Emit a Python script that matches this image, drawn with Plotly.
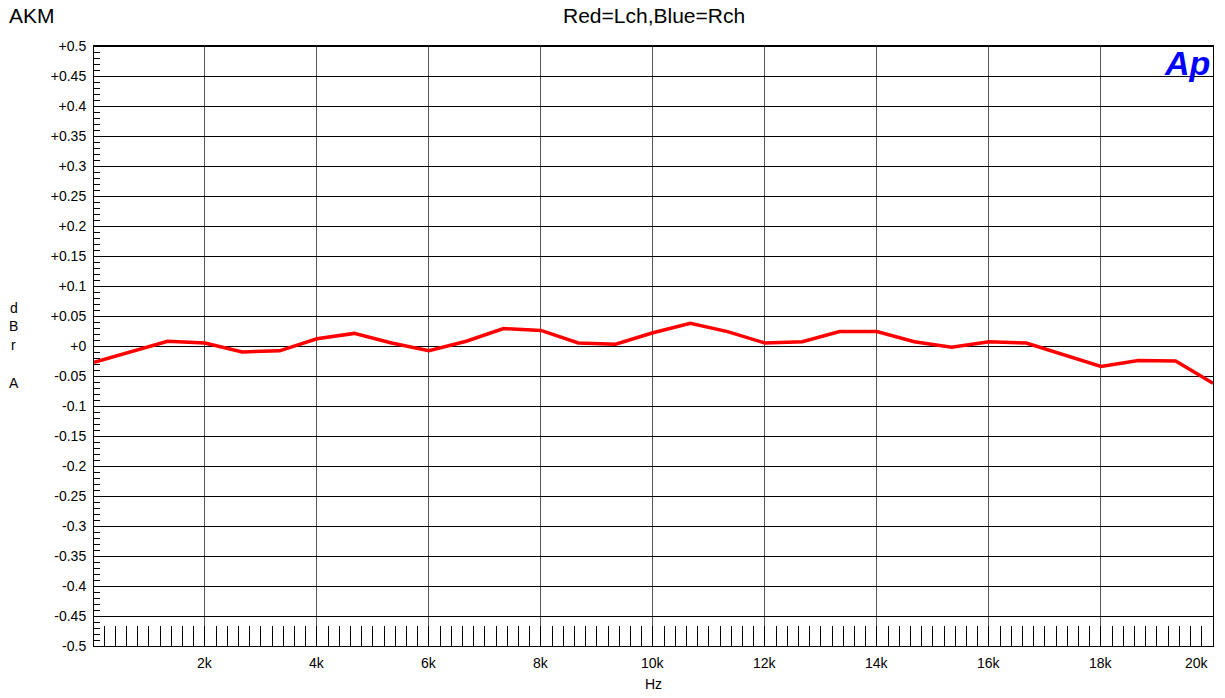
import plotly.graph_objects as go

# ---- data ----
freq_hz = [20, 667, 1333, 2000, 2667, 3333, 4000, 4667, 5333, 6000, 6667,
           7333, 8000, 8667, 9333, 10000, 10667, 11333, 12000, 12667, 13333,
           14000, 14667, 15333, 16000, 16667, 17333, 18000, 18667, 19333, 20000]
lch_dbra = [-0.027, -0.010, 0.008, 0.005, -0.010, -0.008, 0.012, 0.021, 0.005,
            -0.008, 0.008, 0.029, 0.026, 0.005, 0.003, 0.022, 0.038, 0.024,
            0.005, 0.007, 0.024, 0.024, 0.007, -0.002, 0.007, 0.005, -0.014,
            -0.034, -0.024, -0.025, -0.062]

x_tick_vals = [2000, 4000, 6000, 8000, 10000, 12000, 14000, 16000, 18000, 20000]
x_tick_text = ["2k", "4k", "6k", "8k", "10k", "12k", "14k", "16k", "18k", "20k"]
y_tick_vals = [0.5, 0.45, 0.4, 0.35, 0.3, 0.25, 0.2, 0.15, 0.1, 0.05, 0.0,
               -0.05, -0.1, -0.15, -0.2, -0.25, -0.3, -0.35, -0.4, -0.45, -0.5]
y_tick_text = ["+0.5", "+0.45", "+0.4", "+0.35", "+0.3", "+0.25", "+0.2", "+0.15",
               "+0.1", "+0.05", "+0", "-0.05", "-0.1", "-0.15", "-0.2", "-0.25",
               "-0.3", "-0.35", "-0.4", "-0.45", "-0.5"]

FONT = "Arial, Liberation Sans, sans-serif"

fig = go.Figure()
fig.add_trace(go.Scatter(x=freq_hz, y=lch_dbra, mode="lines",
                         line=dict(color="#ff0000", width=3.5), name="Lch",
                         showlegend=False))

annotations = []
for v, t in zip(x_tick_vals, x_tick_text):
    last = v == x_tick_vals[-1]
    annotations.append(dict(x=v, xref="x", y=-0.028, yref="paper", text=t,
                            showarrow=False, yanchor="middle",
                            xanchor="right" if last else "center",
                            xshift=-2 if last else 0,
                            font=dict(family=FONT, size=14, color="black")))

annotations += [
    dict(x=-0.0779, xref="paper", y=1.050, yref="paper", text="AKM",
         showarrow=False, xanchor="left", yanchor="middle",
         font=dict(family=FONT, size=21, color="black")),
    dict(x=0.5, xref="paper", y=1.050, yref="paper", text="Red=Lch,Blue=Rch",
         showarrow=False, xanchor="center", yanchor="middle",
         font=dict(family=FONT, size=21, color="black")),
    dict(x=0.5, xref="paper", y=-0.0625, yref="paper", text="Hz",
         showarrow=False, xanchor="center", yanchor="middle",
         font=dict(family=FONT, size=14, color="black")),
    dict(x=1, xref="paper", y=1.0, yref="paper", text="<b><i>Ap</i></b>",
         showarrow=False, xanchor="right", yanchor="top", xshift=-1, yshift=4,
         font=dict(family=FONT, size=34, color="#0000ff")),
]
for letter, py in [("d", 0.563), ("B", 0.533), ("r", 0.501), ("A", 0.438)]:
    annotations.append(dict(x=-0.0715, xref="paper", y=py, yref="paper",
                            text=letter, showarrow=False, xanchor="center",
                            yanchor="middle",
                            font=dict(family=FONT, size=14, color="black")))

fig.update_layout(
    width=1225, height=698,
    margin=dict(l=94, r=12, t=46, b=52),
    paper_bgcolor="white", plot_bgcolor="white",
    annotations=annotations,
    xaxis=dict(range=[20, 20000], tickmode="array", tickvals=x_tick_vals,
               showticklabels=False, showgrid=True, gridcolor="#555555",
               gridwidth=1, ticks="inside", ticklen=20, tickcolor="black",
               zeroline=False, showline=True, linecolor="black", linewidth=1,
               mirror=True,
               minor=dict(tickmode="linear", tick0=0, dtick=200,
                          ticks="inside", ticklen=20, tickcolor="black",
                          tickwidth=1, showgrid=False)),
    yaxis=dict(range=[-0.5, 0.5], tickmode="array", tickvals=y_tick_vals,
               ticktext=y_tick_text, showgrid=True, gridcolor="black",
               gridwidth=1, ticks="inside", ticklen=6, tickcolor="black",
               ticklabelstandoff=4,
               tickfont=dict(family=FONT, size=14, color="black"),
               zeroline=False, showline=True, linecolor="black", linewidth=1,
               mirror=True,
               minor=dict(tickmode="linear", tick0=0, dtick=0.01,
                          ticks="inside", ticklen=6, tickcolor="black",
                          tickwidth=1, showgrid=False)),
    shapes=[dict(type="line", xref="paper", yref="paper", x0=0, x1=1, y0=1, y1=1,
                 line=dict(color="black", width=2))],
)

fig.write_html("out.html")
